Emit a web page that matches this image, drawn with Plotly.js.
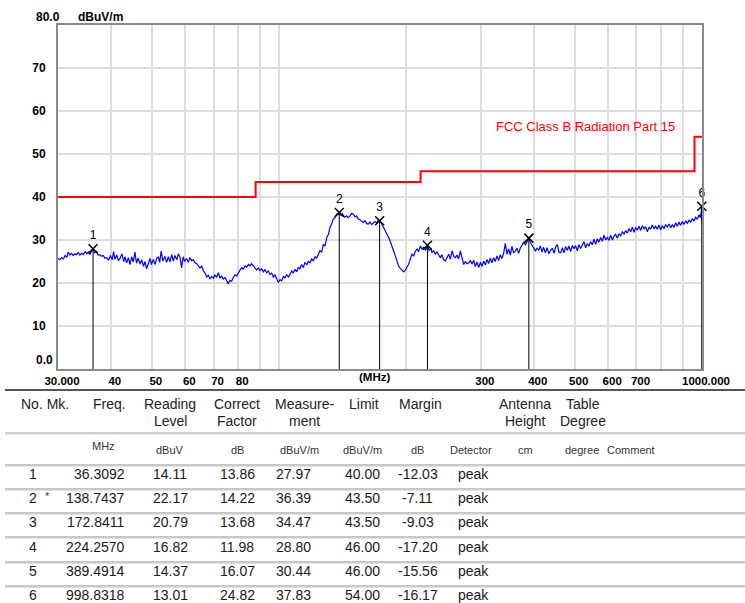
<!DOCTYPE html>
<html><head><meta charset="utf-8">
<script src="https://cdn.plot.ly/plotly-3.0.1.min.js"></script>
<style>html,body{margin:0;padding:0;background:#fff}#chart{width:745px;height:603px}</style>
</head><body><div id="chart"></div>
<script>
// ---------------- DATA ----------------
const traceFreq = [
30.0,30.3,30.6,30.9,31.2,31.5,31.7,32.0,32.3,32.6,
32.9,33.2,33.5,33.8,34.1,34.4,34.8,35.1,35.4,35.7,
36.0,36.3,36.6,37.0,37.3,37.7,38.0,38.4,38.7,39.1,
39.5,39.9,40.3,40.6,40.9,41.3,41.7,42.1,42.5,42.9,
43.2,43.6,44.0,44.4,44.8,45.2,45.6,46.0,46.4,46.9,
47.3,47.8,48.2,48.6,49.1,49.5,49.9,50.4,50.9,51.3,
51.8,52.2,52.6,53.1,53.7,54.2,54.7,55.2,55.7,56.2,
56.7,57.3,57.8,58.3,58.8,59.3,59.8,60.4,61.0,61.5,
62.1,62.7,63.3,63.9,64.4,65.0,65.6,66.2,66.8,67.4,
68.0,68.6,69.3,69.9,70.5,71.2,71.8,72.5,73.1,73.8,
74.5,75.1,75.8,76.5,77.2,77.9,78.6,79.4,80.1,80.8,
81.6,82.3,83.1,83.8,84.6,85.3,86.1,86.9,87.7,88.5,
89.3,90.1,90.9,91.8,92.6,93.5,94.3,95.2,96.0,96.9,
97.8,98.7,99.6,100.5,101.4,102.3,103.3,104.2,105.2,106.1,
107.1,108.0,109.0,110.0,111.0,112.0,113.0,114.1,115.1,116.2,
117.2,118.3,119.4,120.5,121.6,122.7,123.8,124.9,126.1,127.2,
128.4,129.6,130.8,131.9,133.1,134.3,135.6,136.8,138.1,138.7,
139.9,141.2,141.8,143.1,144.4,145.7,147.1,148.4,149.8,151.2,
152.5,153.9,155.3,156.8,158.2,159.6,161.1,162.5,164.0,165.5,
167.0,168.6,170.1,171.7,172.8,174.4,176.3,178.3,180.0,181.6,
183.3,184.9,186.6,188.3,190.0,191.7,193.4,195.2,197.0,198.8,
200.6,202.5,204.3,206.2,208.1,210.0,211.9,213.8,215.7,217.7,
219.8,222.0,224.3,226.3,228.3,229.9,232.0,234.0,236.2,238.4,
240.5,242.7,244.9,247.1,249.4,251.8,254.0,256.4,258.8,261.0,
263.4,265.8,268.2,270.7,273.2,275.7,278.2,280.7,283.3,285.9,
288.5,291.0,293.7,296.4,299.1,301.8,304.6,307.4,310.2,312.9,
315.7,318.6,321.5,324.4,327.4,330.4,333.4,336.5,339.6,342.7,
345.8,349.0,352.2,355.3,358.5,361.8,365.1,368.5,372.0,375.4,
378.9,382.4,385.9,389.5,392.9,396.3,399.9,403.6,407.3,410.9,
414.6,418.4,422.2,426.1,430.2,434.4,438.6,442.7,446.8,450.8,
454.9,459.1,463.3,467.5,471.7,476.0,480.3,484.7,489.0,493.5,
498.0,502.5,507.1,511.8,516.4,521.1,525.9,530.7,535.5,540.4,
545.3,550.3,555.3,560.4,565.5,570.6,575.8,581.1,586.4,591.8,
597.2,602.6,608.1,613.6,619.2,624.9,630.6,636.3,642.1,648.0,
654.0,660.0,666.0,672.1,678.2,684.4,690.7,697.0,703.2,709.6,
716.1,722.6,729.4,735.9,742.6,749.4,756.2,763.1,770.0,777.0,
784.1,791.3,798.5,805.8,813.1,820.5,827.8,835.4,843.0,850.7,
858.4,866.3,874.2,882.2,890.2,898.3,906.6,915.0,923.3,931.8,
940.3,948.9,957.6,966.3,975.0,983.8,991.0,995.0,998.8,1000.0
];
const traceLevel = [
25.7,25.4,25.9,25.6,26.4,26.0,27.2,26.5,26.9,26.4,
26.8,26.6,27.1,26.5,26.9,26.6,27.3,26.8,27.2,26.6,
27.4,28.0,27.0,27.3,26.5,26.6,26.2,26.4,25.8,25.9,
25.3,26.4,25.4,27.3,25.5,26.5,25.2,25.8,26.8,24.9,
26.1,24.7,25.9,24.3,26.1,24.9,27.2,24.6,25.8,24.4,
25.4,23.9,25.0,23.3,24.6,25.7,24.3,25.5,24.3,25.6,
26.1,24.8,27.4,25.1,26.2,24.8,26.1,24.9,26.6,25.1,
26.4,25.4,26.8,26.0,23.5,26.1,25.0,25.7,24.8,25.9,
25.2,25.4,24.7,24.5,24.0,23.5,23.9,22.8,22.3,21.4,
21.8,21.0,21.5,21.1,21.9,21.3,22.4,21.1,21.6,20.9,
21.3,20.4,19.8,20.6,20.4,21.3,21.9,21.6,22.4,23.0,
23.6,23.2,24.0,23.7,24.3,24.0,24.5,23.9,23.6,23.0,
23.5,22.9,23.3,22.6,23.1,22.4,22.8,22.0,22.3,21.4,
21.9,20.9,20.1,20.8,20.5,21.5,21.2,21.9,21.4,22.0,
22.8,22.3,23.2,22.6,23.6,23.3,24.3,23.6,24.8,24.2,
25.0,24.7,25.6,25.2,26.1,25.8,26.6,27.5,27.2,29.0,
28.6,30.6,31.3,33.0,33.7,34.9,35.2,36.0,35.9,36.4,
35.8,36.1,35.7,35.3,35.6,35.2,35.6,36.2,36.0,35.4,
35.6,34.9,34.7,34.3,34.1,34.5,33.8,33.7,34.2,33.6,
33.9,34.3,34.0,34.6,34.5,34.0,33.0,32.2,31.4,30.6,
29.6,28.3,27.4,26.3,25.0,23.9,23.4,23.1,22.6,23.0,
23.6,24.4,25.6,26.7,26.3,27.4,27.9,27.3,28.6,27.9,
28.3,27.6,28.8,27.6,28.0,27.1,27.5,26.7,27.2,26.4,
25.9,26.6,25.4,25.1,25.8,26.7,25.5,27.5,26.2,25.9,
26.5,25.6,27.5,25.6,24.3,25.0,24.5,24.7,25.2,24.4,
25.3,23.8,24.9,23.6,24.8,23.9,25.1,24.2,25.5,24.5,
25.8,24.7,25.9,25.0,26.3,25.2,26.6,25.7,26.9,29.2,
26.7,27.9,26.5,28.5,27.0,27.4,28.1,26.9,28.2,28.8,
29.5,28.9,29.8,30.4,29.4,28.7,28.0,27.5,28.1,27.6,
28.6,27.2,28.3,27.0,28.2,26.8,27.6,28.1,26.9,28.4,
28.9,27.1,27.0,28.2,27.0,28.5,27.6,28.6,27.3,28.7,
28.0,28.7,27.5,28.9,28.0,28.9,29.6,28.2,29.1,28.6,
29.6,28.9,30.2,29.0,30.3,29.5,30.6,29.7,31.1,30.0,
30.6,29.9,31.1,30.0,30.9,31.3,30.4,31.4,31.0,31.9,
31.4,32.2,31.6,32.7,31.9,33.0,31.8,32.9,32.3,33.2,
32.2,33.3,32.6,33.1,31.9,33.0,32.5,33.5,32.6,33.2,
32.5,33.5,32.4,33.3,32.6,33.6,33.0,33.7,32.8,33.6,
32.9,34.0,33.2,34.2,33.4,34.3,33.6,34.5,33.9,34.6,
34.2,35.0,34.4,35.3,34.8,35.9,35.2,36.3,37.8,34.0
];
const limitFreq  = [30, 88, 216, 960, 1000];
const limitLevel = [40, 43.5, 46, 54, 54];
const limitName  = "FCC Class B Radiation Part 15";

const markerNo      = ["1","2","3","4","5","6"];
const markerMk      = ["","*","","","",""];
const markerFreq    = [36.3092, 138.7437, 172.8411, 224.2570, 389.4914, 998.8318];
const readingLevel  = [14.11, 22.17, 20.79, 16.82, 14.37, 13.01];
const correctFactor = [13.86, 14.22, 13.68, 11.98, 16.07, 24.82];
const measurement   = [27.97, 36.39, 34.47, 28.80, 30.44, 37.83];
const limitAt       = [40.00, 43.50, 43.50, 46.00, 46.00, 54.00];
const marginDb      = [-12.03, -7.11, -9.03, -17.20, -15.56, -16.17];
const detector      = ["peak","peak","peak","peak","peak","peak"];

const xTickVals = [30,40,50,60,70,80,90,100,200,300,400,500,600,700,800,900,1000];
const xTickText = ["30.000","40","50","60","70","80","","","","300","400","500","600","700","","","1000.000"];
const yTickVals = [0,10,20,30,40,50,60,70,80];
const yTickText = ["","10","20","30","40","50","60","70",""];

const headerLine1 = ["No. Mk.","Freq.","Reading","Correct","Measure-","Limit","Margin","Antenna","Table"];
const headerLine2 = ["","","Level","Factor","ment","","","Height","Degree"];
const unitsRow    = ["MHz","dBuV","dB","dBuV/m","dBuV/m","dB","Detector","cm","degree","Comment"];

// ---------------- LAYOUT ----------------
const FONT = "Liberation Sans, Arial, sans-serif";
const W = 745, H = 603, L = 58, R = 702, T = 25, B = 369;
const PX = x => (x - L) / (R - L);
const PY = y => (B - y) / (B - T);
function A(text, x, y, xanchor, size, extra) {
  return Object.assign({
    text: text, xref: 'paper', yref: 'paper', x: PX(x), y: PY(y),
    xanchor: xanchor, yanchor: 'middle', showarrow: false,
    font: {family: FONT, size: size, color: '#111'}
  }, extra || {});
}
function HL(y, color, width) {
  return {type: 'line', xref: 'paper', yref: 'paper', x0: PX(5), x1: PX(745),
          y0: PY(y), y1: PY(y), line: {color: color, width: width}};
}

const annotations = [];
const bold = {family: FONT, size: 12, color: '#000', weight: 'bold'};
annotations.push(A("80.0", 62, 17, 'right', 12, {font: bold}));
annotations.push(A("dBuV/m", 76, 17, 'left', 12, {font: bold}));
annotations.push(A("0.0", 55, 360, 'right', 12, {font: bold}));
annotations.push(A("(MHz)", 374, 377, 'center', 11.5, {font: Object.assign({}, bold, {size: 11.5})}));
annotations.push(A(limitName, 494, 127, 'left', 13, {font: {family: FONT, size: 13, color: '#ff0000'}}));

// table header
const hdrX = [19, 109, 170, 237, 304, 364, 420, 525, 583];
const hdrAnchor = ['left','center','center','center','center','center','center','center','center'];
headerLine1.forEach((t, i) => { if (t) annotations.push(A(t, hdrX[i], 404, hdrAnchor[i], 14, {font:{family:FONT,size:14,color:'#222'}})); });
headerLine2.forEach((t, i) => { if (t) annotations.push(A(t, hdrX[i], 421, hdrAnchor[i], 14, {font:{family:FONT,size:14,color:'#222'}})); });
const unitX = [103, 170, 237, 299, 362, 417, 471, 525, 582, 631];
const unitY = [446, 450, 450, 450, 450, 450, 450, 450, 450, 450];
unitsRow.forEach((t, i) => annotations.push(A(t, unitX[i], unitY[i], 'center', 11, {font:{family:FONT,size:11,color:'#333'}})));

// table rows
const rowY = [474, 498, 522, 547, 571, 595];
const rf = {family: FONT, size: 14, color: '#1a1a1a'};
markerNo.forEach((n, i) => {
  const y = rowY[i];
  annotations.push(A(n, 33, y, 'center', 14, {font: rf}));
  if (markerMk[i]) annotations.push(A(markerMk[i], 47, y - 2, 'center', 11, {font: {family: FONT, size: 11, color: '#333'}}));
  annotations.push(A(markerFreq[i].toFixed(4), 127, y, 'right', 14, {font: rf}));
  annotations.push(A(readingLevel[i].toFixed(2), 170, y, 'center', 14, {font: rf}));
  annotations.push(A(correctFactor[i].toFixed(2), 237, y, 'center', 14, {font: rf}));
  annotations.push(A(measurement[i].toFixed(2), 293, y, 'center', 14, {font: rf}));
  annotations.push(A(limitAt[i].toFixed(2), 362, y, 'center', 14, {font: rf}));
  annotations.push(A(marginDb[i].toFixed(2), 418, y, 'center', 14, {font: rf}));
  annotations.push(A(detector[i], 456, y, 'left', 14, {font: rf}));
});

const shapes = [HL(390, '#555555', 2), HL(433, '#9a9a9a', 1), HL(434.2, '#e2e2e2', 1)];
[465, 489, 513, 537, 562, 586].forEach(y => { shapes.push(HL(y, '#8c8c8c', 1)); shapes.push(HL(y + 1.2, '#d4d4d4', 1)); });

// marker stems
const stemX = [], stemY = [];
markerFreq.forEach((f, i) => { stemX.push(f, f, null); stemY.push(0, measurement[i], null); });

const data = [
  {x: limitFreq, y: limitLevel, type: 'scatter', mode: 'lines', line: {shape: 'hv', color: '#ff0000', width: 2}, hoverinfo: 'skip'},
  {x: traceFreq, y: traceLevel, type: 'scatter', mode: 'lines', line: {color: '#0000ff', width: 1.2}},
  {x: stemX, y: stemY, type: 'scatter', mode: 'lines', line: {color: '#000', width: 1}, connectgaps: false},
  {x: markerFreq, y: measurement, type: 'scatter', mode: 'markers+text', text: markerNo,
   textposition: 'top center', textfont: {family: FONT, size: 12, color: '#000'}, cliponaxis: false,
   marker: {symbol: 'x-thin-open', size: 9, color: '#000', line: {width: 1.5, color: '#000'}}}
];

const layout = {
  width: W, height: H, showlegend: false,
  paper_bgcolor: '#fff', plot_bgcolor: '#fff',
  margin: {l: L, r: W - R, t: T, b: H - B, pad: 0},
  xaxis: {type: 'log', range: [Math.log10(30), 3], tickmode: 'array', tickvals: xTickVals, ticktext: xTickText,
          showgrid: true, gridcolor: '#dcdcdc', gridwidth: 2, zeroline: false,
          showline: true, linecolor: '#8a8a8a', linewidth: 2, mirror: true, ticks: '',
          tickfont: {family: FONT, size: 11.5, color: '#000', weight: 'bold'}, ticklabelshift: 4, ticklabelstandoff: 0},
  yaxis: {range: [0, 80], tickmode: 'array', tickvals: yTickVals, ticktext: yTickText,
          showgrid: true, gridcolor: '#dcdcdc', gridwidth: 2, zeroline: false,
          showline: true, linecolor: '#8a8a8a', linewidth: 2, mirror: true, ticks: '',
          tickfont: {family: FONT, size: 12, color: '#000', weight: 'bold'}, ticklabelstandoff: 8},
  annotations: annotations, shapes: shapes
};
Plotly.newPlot('chart', data, layout, {staticPlot: true, displayModeBar: false});
</script></body></html>
